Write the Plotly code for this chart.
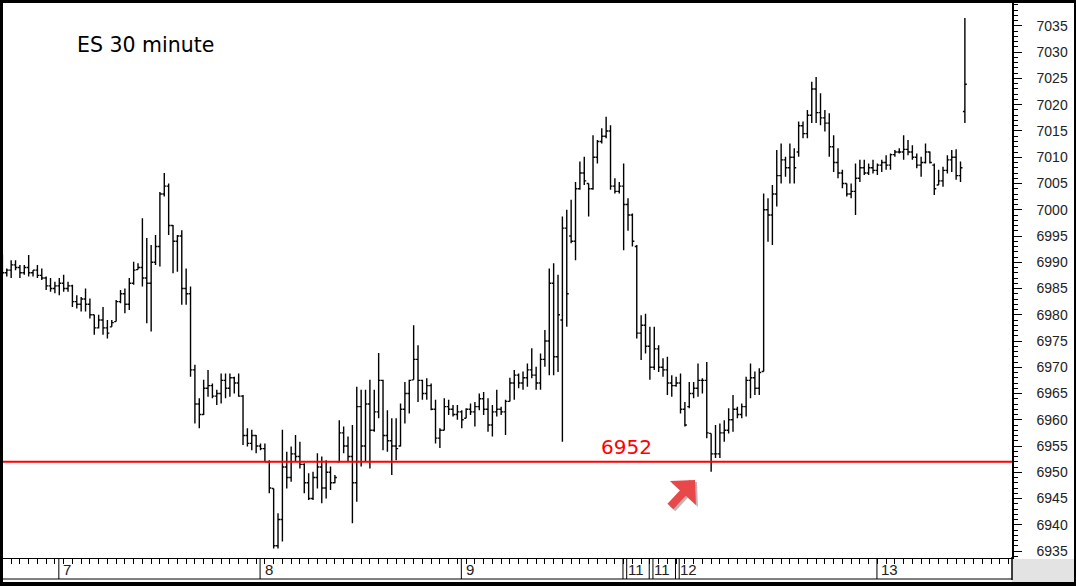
import plotly.graph_objects as go

# ES 30 minute bars (index = bar number)
opens = [
    6989.0, 6988.0, 6988.5, 6989.5, 6989.0, 6988.0, 6989.0, 6988.0, 6988.5, 6987.5,
    6987.0, 6985.5, 6985.0, 6985.5, 6986.0, 6985.0, 6985.5, 6982.5, 6982.0, 6983.0,
    6982.0, 6980.0, 6977.5, 6979.0, 6977.5, 6977.7, 6978.7, 6982.5, 6984.0, 6982.0,
    6986.0, 6988.6, 6989.0, 6987.0, 6986.0, 6990.0, 6993.0, 7003.0, 7004.5, 6997.0,
    6994.0, 6995.0, 6985.0, 6984.0, 6969.5, 6963.0, 6961.0, 6966.0, 6966.5, 6964.5,
    6965.0, 6967.5, 6966.0, 6968.0, 6967.0, 6964.5, 6957.0, 6955.5, 6957.0, 6955.0,
    6954.5, 6952.0, 6946.9, 6936.0, 6941.0, 6951.0, 6949.0, 6953.5, 6953.0, 6951.5,
    6948.0, 6945.0, 6949.0, 6951.0, 6947.0, 6950.0, 6948.0, 6952.0, 6957.5, 6955.0,
    6953.0, 6948.0, 6962.5, 6955.0, 6963.0, 6958.0, 6961.5, 6967.5, 6957.0, 6956.0,
    6955.0, 6955.0, 6962.0, 6965.0, 6967.6, 6971.5, 6967.5, 6965.0, 6966.5, 6962.0,
    6956.5, 6958.0, 6962.5, 6962.0, 6961.0, 6961.5, 6960.3, 6962.0, 6961.5, 6962.5,
    6964.0, 6962.0, 6959.0, 6961.5, 6962.0, 6961.5, 6963.5, 6967.0, 6968.5, 6967.0,
    6968.0, 6969.5, 6968.5, 6967.0, 6971.5, 6975.0, 6986.0, 6972.0, 6979.0, 6996.5,
    6995.0, 6994.0, 7004.0, 7007.0, 7005.0, 7004.0, 7010.0, 7013.0, 7014.0, 7015.0,
    7004.5, 7003.5, 7004.5, 7001.0, 6999.0, 6993.0, 6976.5, 6978.0, 6974.0, 6970.0,
    6973.5, 6970.0, 6969.5, 6967.0, 6966.5, 6967.0, 6962.0, 6962.5, 6965.0, 6966.0,
    6967.5, 6967.5, 6957.4, 6953.5, 6953.5, 6957.5, 6958.0, 6960.0, 6962.0, 6961.0,
    6962.5, 6967.5, 6968.0, 6966.0, 6969.2, 7000.0, 6999.0, 7003.0, 7006.5, 7009.5,
    7008.0, 7010.0, 7011.0, 7016.0, 7014.5, 7018.0, 7023.0, 7018.5, 7017.5, 7016.5,
    7012.0, 7009.0, 7007.0, 7005.0, 7003.0, 7003.5, 7006.0, 7008.0, 7007.0, 7008.0,
    7007.5, 7008.5, 7009.0, 7008.5, 7010.5, 7011.0, 7011.0, 7011.5, 7011.0, 7010.0,
    7008.5, 7009.0, 7011.0, 7008.5, 7004.7, 7005.5, 7007.5, 7009.5, 7010.0, 7006.5,
    7018.7,
]
highs = [
    6991.5, 6988.8, 6990.4, 6990.4, 6989.5, 6989.5, 6991.4, 6988.5, 6989.5, 6988.8,
    6987.3, 6987.0, 6986.3, 6987.0, 6987.6, 6986.3, 6985.7, 6983.7, 6983.4, 6985.0,
    6983.1, 6980.0, 6980.0, 6981.5, 6979.0, 6979.0, 6982.8, 6984.7, 6985.0, 6987.0,
    6990.1, 6989.8, 6998.4, 6994.6, 6993.3, 6995.2, 7003.4, 7007.0, 7005.0, 6997.1,
    6995.2, 6996.1, 6988.8, 6985.4, 6970.5, 6964.1, 6967.6, 6969.5, 6966.9, 6965.7,
    6968.8, 6968.8, 6968.8, 6968.2, 6968.8, 6964.7, 6958.4, 6958.1, 6957.1, 6955.5,
    6955.5, 6952.3, 6946.9, 6942.2, 6958.1, 6953.9, 6954.9, 6957.1, 6955.8, 6951.7,
    6949.8, 6950.1, 6953.6, 6953.0, 6952.3, 6951.1, 6949.5, 6959.9, 6958.7, 6956.8,
    6959.0, 6966.3, 6965.7, 6965.7, 6967.6, 6965.7, 6972.7, 6967.6, 6961.8, 6960.3,
    6960.3, 6963.1, 6967.2, 6967.6, 6978.0, 6974.2, 6967.6, 6967.9, 6966.9, 6963.8,
    6958.4, 6964.1, 6963.8, 6962.8, 6962.8, 6961.8, 6962.2, 6963.1, 6963.4, 6965.0,
    6965.3, 6964.1, 6962.8, 6965.7, 6962.5, 6963.8, 6968.0, 6969.5, 6968.8, 6969.2,
    6970.7, 6973.6, 6970.1, 6972.6, 6977.1, 6988.8, 6989.8, 6987.6, 6998.7, 7000.0,
    7001.9, 7005.3, 7009.2, 7010.1, 7005.0, 7014.2, 7013.3, 7015.5, 7017.7, 7016.1,
    7006.0, 7005.3, 7008.8, 7002.2, 6999.3, 6993.3, 6979.9, 6980.2, 6977.7, 6977.7,
    6974.2, 6971.7, 6972.0, 6968.5, 6968.2, 6968.8, 6963.4, 6967.2, 6967.2, 6970.7,
    6967.9, 6971.0, 6957.4, 6959.0, 6959.3, 6959.9, 6962.2, 6964.7, 6962.5, 6963.1,
    6968.2, 6970.7, 6969.2, 6969.8, 7003.1, 7002.2, 7004.7, 7011.4, 7012.6, 7010.1,
    7012.6, 7011.7, 7016.8, 7016.8, 7019.0, 7024.4, 7025.3, 7022.2, 7019.0, 7018.4,
    7014.2, 7011.7, 7007.6, 7005.0, 7005.0, 7008.8, 7009.5, 7009.5, 7008.8, 7009.5,
    7008.8, 7009.5, 7010.4, 7010.7, 7011.4, 7011.7, 7014.2, 7013.3, 7012.3, 7010.7,
    7010.1, 7012.6, 7011.1, 7008.8, 7007.6, 7008.2, 7010.4, 7011.4, 7011.5, 7009.2,
    7036.5,
]
lows = [
    6987.6, 6987.3, 6987.0, 6988.5, 6987.0, 6987.6, 6987.3, 6987.3, 6987.0, 6986.6,
    6984.7, 6984.4, 6984.1, 6983.7, 6984.4, 6984.4, 6981.5, 6981.2, 6980.6, 6980.6,
    6979.3, 6976.2, 6977.4, 6976.2, 6975.5, 6977.7, 6978.7, 6982.2, 6980.3, 6980.9,
    6985.7, 6988.6, 6985.4, 6978.4, 6976.8, 6989.5, 6989.2, 7002.5, 6995.2, 6987.9,
    6988.2, 6981.9, 6981.9, 6968.2, 6959.3, 6958.4, 6960.9, 6964.4, 6964.1, 6962.8,
    6963.1, 6964.1, 6964.4, 6965.0, 6964.4, 6955.2, 6954.9, 6954.2, 6953.6, 6954.2,
    6952.0, 6946.0, 6935.5, 6935.5, 6936.8, 6946.9, 6948.2, 6952.0, 6950.7, 6946.0,
    6944.7, 6944.7, 6946.9, 6944.1, 6945.0, 6946.6, 6947.9, 6952.0, 6953.6, 6952.0,
    6940.3, 6944.4, 6951.1, 6952.0, 6950.7, 6957.7, 6960.3, 6954.2, 6953.9, 6949.5,
    6952.3, 6954.9, 6959.3, 6961.2, 6967.6, 6963.4, 6963.8, 6963.8, 6961.8, 6955.5,
    6954.6, 6958.0, 6960.9, 6960.6, 6960.0, 6958.4, 6960.3, 6960.9, 6958.7, 6961.8,
    6960.9, 6957.7, 6956.8, 6960.6, 6960.9, 6957.1, 6963.5, 6963.8, 6966.0, 6965.7,
    6966.3, 6967.9, 6965.7, 6965.7, 6970.1, 6968.5, 6968.5, 6969.1, 6955.8, 6977.7,
    6993.6, 6990.4, 7003.8, 7004.7, 6998.7, 7003.8, 7008.8, 7012.6, 7013.6, 7003.8,
    7003.1, 7003.1, 6992.3, 6996.0, 6993.0, 6975.5, 6971.4, 6972.6, 6967.6, 6969.5,
    6969.1, 6968.2, 6964.7, 6964.4, 6966.3, 6961.2, 6958.7, 6962.2, 6964.1, 6964.4,
    6965.0, 6956.5, 6950.1, 6952.7, 6952.7, 6955.8, 6957.4, 6957.7, 6960.3, 6960.3,
    6960.6, 6964.1, 6964.7, 6964.7, 6969.2, 6993.9, 6993.3, 7000.6, 7005.0, 7006.3,
    7005.0, 7005.0, 7010.1, 7013.6, 7013.6, 7016.5, 7016.5, 7016.1, 7014.9, 7010.1,
    7007.2, 7006.0, 7004.1, 7002.5, 7002.2, 6999.0, 7005.3, 7006.6, 7006.6, 7006.9,
    7006.6, 7007.2, 7007.6, 7007.6, 7010.1, 7010.7, 7009.5, 7010.4, 7009.5, 7007.9,
    7006.3, 7008.8, 7008.8, 7002.8, 7004.7, 7004.4, 7006.9, 7007.2, 7005.7, 7005.3,
    7016.5,
]
closes = [
    6988.0, 6988.5, 6989.5, 6989.0, 6988.0, 6989.0, 6988.0, 6988.5, 6987.5, 6987.0,
    6985.5, 6985.0, 6985.5, 6986.0, 6985.0, 6985.5, 6982.5, 6982.0, 6983.0, 6982.0,
    6980.0, 6977.5, 6979.0, 6977.5, 6976.5, 6978.5, 6982.5, 6984.0, 6982.0, 6986.0,
    6988.5, 6989.0, 6987.0, 6986.0, 6990.0, 6993.0, 7003.0, 7004.5, 6997.0, 6994.0,
    6995.0, 6985.0, 6984.0, 6969.5, 6963.0, 6961.0, 6966.0, 6966.5, 6964.5, 6965.0,
    6967.5, 6966.0, 6968.0, 6967.0, 6964.5, 6957.0, 6955.5, 6957.0, 6955.0, 6954.5,
    6952.0, 6947.0, 6936.0, 6941.0, 6951.0, 6949.0, 6953.5, 6953.0, 6951.5, 6948.0,
    6945.0, 6949.0, 6951.0, 6947.0, 6950.0, 6948.0, 6949.0, 6957.5, 6955.0, 6953.0,
    6948.0, 6962.5, 6955.0, 6963.0, 6958.0, 6961.5, 6967.5, 6957.0, 6956.0, 6955.0,
    6954.5, 6962.0, 6965.0, 6967.5, 6971.5, 6967.5, 6965.0, 6966.5, 6962.0, 6956.5,
    6958.0, 6962.5, 6962.0, 6961.0, 6961.5, 6960.0, 6962.0, 6961.5, 6962.5, 6964.0,
    6962.0, 6959.0, 6961.5, 6962.0, 6961.5, 6963.5, 6967.0, 6968.5, 6967.0, 6968.0,
    6969.5, 6968.5, 6967.0, 6971.5, 6975.0, 6986.0, 6972.0, 6980.0, 6996.5, 6984.0,
    6994.0, 7004.0, 7007.0, 7005.5, 7004.0, 7010.0, 7013.0, 7014.0, 7015.0, 7004.5,
    7003.5, 7004.5, 7001.0, 6999.0, 6994.0, 6976.5, 6978.0, 6974.0, 6970.0, 6973.5,
    6970.0, 6969.5, 6967.0, 6966.5, 6967.0, 6962.0, 6959.0, 6965.0, 6966.0, 6967.5,
    6967.5, 6957.5, 6953.5, 6953.5, 6957.5, 6958.0, 6960.0, 6962.0, 6961.0, 6962.5,
    6967.5, 6968.0, 6966.0, 6969.0, 7000.0, 6999.0, 7003.0, 7006.5, 7009.5, 7008.0,
    7010.0, 7008.0, 7016.0, 7014.5, 7018.0, 7023.0, 7018.5, 7017.5, 7016.5, 7012.0,
    7009.0, 7007.0, 7005.0, 7003.0, 7003.5, 7006.0, 7008.0, 7007.0, 7008.0, 7007.5,
    7008.5, 7009.0, 7008.5, 7010.5, 7011.0, 7011.0, 7011.5, 7011.0, 7010.0, 7008.5,
    7009.0, 7011.0, 7009.0, 7004.0, 7005.5, 7007.5, 7009.5, 7010.0, 7006.5, 7008.0,
    7023.9,
]

day_labels = ["7", "8", "9", "11", "11", "12", "13"]
day_first_bar = [13, 59, 105, 142, 148, 154, 200]
double_line_days = [3, 4, 5]
support_level = 6952

bars = list(range(len(opens)))

# pixel helpers (plot area is x 0..1012, y 0..558 of the 1076x586 page)
PW, PH = 1012, 558


def px(x):
    return x / PW


def py(y):
    return (PH - y) / PH


fig = go.Figure()
fig.add_trace(go.Ohlc(
    x=bars, open=opens, high=highs, low=lows, close=closes,
    increasing=dict(line=dict(color="black", width=1.4)),
    decreasing=dict(line=dict(color="black", width=1.4)),
    tickwidth=0.45,
    showlegend=False,
    hoverinfo="skip",
))

shapes = []
# support line
shapes.append(dict(type="line", xref="paper", yref="y", x0=0, x1=1,
                   y0=support_level, y1=support_level,
                   line=dict(color="#ff0000", width=2)))
# bottom date strip
shapes.append(dict(type="line", xref="paper", yref="paper", x0=0, x1=1,
                   y0=py(579), y1=py(579), line=dict(color="black", width=1)))
shapes.append(dict(type="rect", xref="paper", yref="paper", x0=px(1012), x1=px(1076),
                   y0=py(586), y1=py(559), fillcolor="#e3e3e3", line=dict(width=0)))
shapes.append(dict(type="line", xref="paper", yref="paper", x0=px(1012), x1=px(1012),
                   y0=py(580), y1=py(557), line=dict(color="black", width=1.5)))
for k, d in enumerate(day_first_bar):
    offsets = [-0.15, 0.7] if k in double_line_days else [-0.1]
    for off in offsets:
        shapes.append(dict(type="line", xref="x", yref="paper", x0=d + off, x1=d + off,
                           y0=py(579), y1=py(558), line=dict(color="black", width=1)))
# outer frame
shapes.append(dict(type="rect", xref="paper", yref="paper", x0=px(0), x1=px(1077),
                   y0=py(585), y1=py(0), line=dict(color="black", width=6),
                   fillcolor="rgba(0,0,0,0)", layer="above"))

annotations = []
annotations.append(dict(text="ES 30 minute", xref="paper", yref="paper",
                        x=px(75), y=py(45), xanchor="left", yanchor="middle",
                        showarrow=False,
                        font=dict(family="DejaVu Sans", size=20.5, color="black")))
for d, lab in zip(day_first_bar, day_labels):
    annotations.append(dict(text=lab, xref="x", yref="paper", x=d, y=py(569),
                            xanchor="left", yanchor="middle", xshift=2, showarrow=False,
                            font=dict(family="Liberation Sans", size=15, color="#222222")))
annotations.append(dict(text=str(support_level), xref="paper", yref="y",
                        x=px(626), y=support_level, xanchor="center", yanchor="bottom",
                        yshift=1, showarrow=False,
                        font=dict(family="DejaVu Sans", size=20, color="#ff0000")))
# pointer arrow towards the retest of the level (soft shadow first, then the arrow)
annotations.append(dict(text="", xref="paper", yref="paper", x=px(697), y=py(482),
                        ax=-26, ay=28, showarrow=True, arrowhead=1, arrowsize=0.74,
                        arrowwidth=8, arrowcolor="rgba(90,40,40,0.35)"))
annotations.append(dict(text="", xref="paper", yref="paper", x=px(695), y=py(480),
                        ax=-26, ay=28, showarrow=True, arrowhead=1, arrowsize=0.74,
                        arrowwidth=8, arrowcolor="#e8484a"))

fig.update_layout(
    width=1076, height=586,
    margin=dict(l=0, r=64, t=0, b=28),
    paper_bgcolor="white", plot_bgcolor="white",
    shapes=shapes, annotations=annotations,
    xaxis=dict(range=[-0.55, 230.77], showgrid=False, zeroline=False,
               showline=True, linecolor="black", linewidth=1,
               ticks="outside", ticklen=5, tickcolor="black", tick0=0, dtick=2,
               showticklabels=False, rangeslider=dict(visible=False), fixedrange=True),
    yaxis=dict(range=[6933.67, 7039.95], side="right", showgrid=False, zeroline=False,
               showline=True, linecolor="black", linewidth=1.5,
               ticks="outside", ticklen=8, tickcolor="black", tick0=6935, dtick=5,
               minor=dict(dtick=1, ticks="outside", ticklen=4, tickcolor="black"),
               ticklabelstandoff=12,
               tickfont=dict(family="Liberation Sans", size=14, color="#222222")),
)

# the page's default body margin would push the chart 8px down and right
fig.write_html("out.html", config={"displayModeBar": False},
               post_script="document.body.style.margin='0';")
